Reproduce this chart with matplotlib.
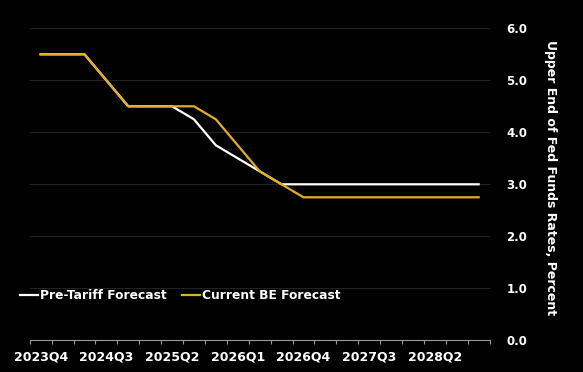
import numpy as np
import matplotlib.pyplot as plt

# Quarterly path of the upper end of the fed funds range, 2023Q4 .. 2028Q4
quarters = ["2023Q4", "2024Q1", "2024Q2", "2024Q3", "2024Q4",
            "2025Q1", "2025Q2", "2025Q3", "2025Q4", "2026Q1",
            "2026Q2", "2026Q3", "2026Q4", "2027Q1", "2027Q2",
            "2027Q3", "2027Q4", "2028Q1", "2028Q2", "2028Q3", "2028Q4"]
pre_tariff = [5.5, 5.5, 5.5, 5.0, 4.5, 4.5, 4.5, 4.25, 3.75, 3.5, 3.25,
              3.0, 3.0, 3.0, 3.0, 3.0, 3.0, 3.0, 3.0, 3.0, 3.0]
current_be = [5.5, 5.5, 5.5, 5.0, 4.5, 4.5, 4.5, 4.5, 4.25, 3.75, 3.25,
              3.0, 2.75, 2.75, 2.75, 2.75, 2.75, 2.75, 2.75, 2.75, 2.75]
label_quarters = ["2023Q4", "2024Q3", "2025Q2", "2026Q1", "2026Q4", "2027Q3", "2028Q2"]

GOLD = "#E3AE1E"
W, H = 583, 372

fig = plt.figure(figsize=(W / 100, H / 100), dpi=100, facecolor="black")
ax = fig.add_axes([29.7 / W, 1 - 340.3 / H, (489.6 - 29.7) / W, 312 / H])
ax.set_facecolor("black")

x = np.arange(len(quarters))
ax.plot(x, pre_tariff, color="white", lw=1.6, label="Pre-Tariff Forecast", zorder=3)
ax.plot(x, current_be, color=GOLD, lw=1.6, label="Current BE Forecast", zorder=4)

ax.set_xlim(-0.5, len(quarters) - 0.5)
ax.set_ylim(0, 6)

# y axis on the right
ax.yaxis.tick_right()
ax.yaxis.set_label_position("right")
ax.set_yticks(np.arange(0, 7, 1.0))
ax.set_yticklabels([f"{v:.1f}" for v in np.arange(0, 7, 1.0)],
                   color="white", fontsize=8.5, fontweight="bold")
ax.tick_params(axis="y", length=0, pad=12)
ax.grid(axis="y", color="#222222", lw=0.8)
ax.set_ylabel("Upper End of Fed Funds Rates, Percent", rotation=270,
              color="white", fontsize=9, fontweight="bold")
ax.yaxis.set_label_coords(1.147, 0.52)

# x axis: ticks at quarter boundaries, labels every third quarter
ax.set_xticks(np.arange(-0.5, len(quarters)), minor=False)
ax.set_xticklabels([])
ax.set_xticks([quarters.index(q) for q in label_quarters], minor=True)
ax.set_xticklabels(label_quarters, minor=True, color="white",
                   fontsize=9, fontweight="bold")
ax.tick_params(axis="x", which="major", length=3, color="#9a9a9a", width=0.8)
ax.tick_params(axis="x", which="minor", length=0, pad=7.5)

for side in ["top", "left", "right"]:
    ax.spines[side].set_visible(False)
ax.spines["bottom"].set_color("#9a9a9a")
ax.spines["bottom"].set_linewidth(0.8)

fig.legend(loc="center left", bbox_to_anchor=(20 / W, 1 - 295.7 / H),
           ncol=2, frameon=False, handlelength=1.5, handletextpad=0.1,
           columnspacing=1.3, borderpad=0, borderaxespad=0,
           prop={"size": 8.8, "weight": "bold"}, labelcolor="white")

fig.savefig("out.png", dpi=100, facecolor="black")
